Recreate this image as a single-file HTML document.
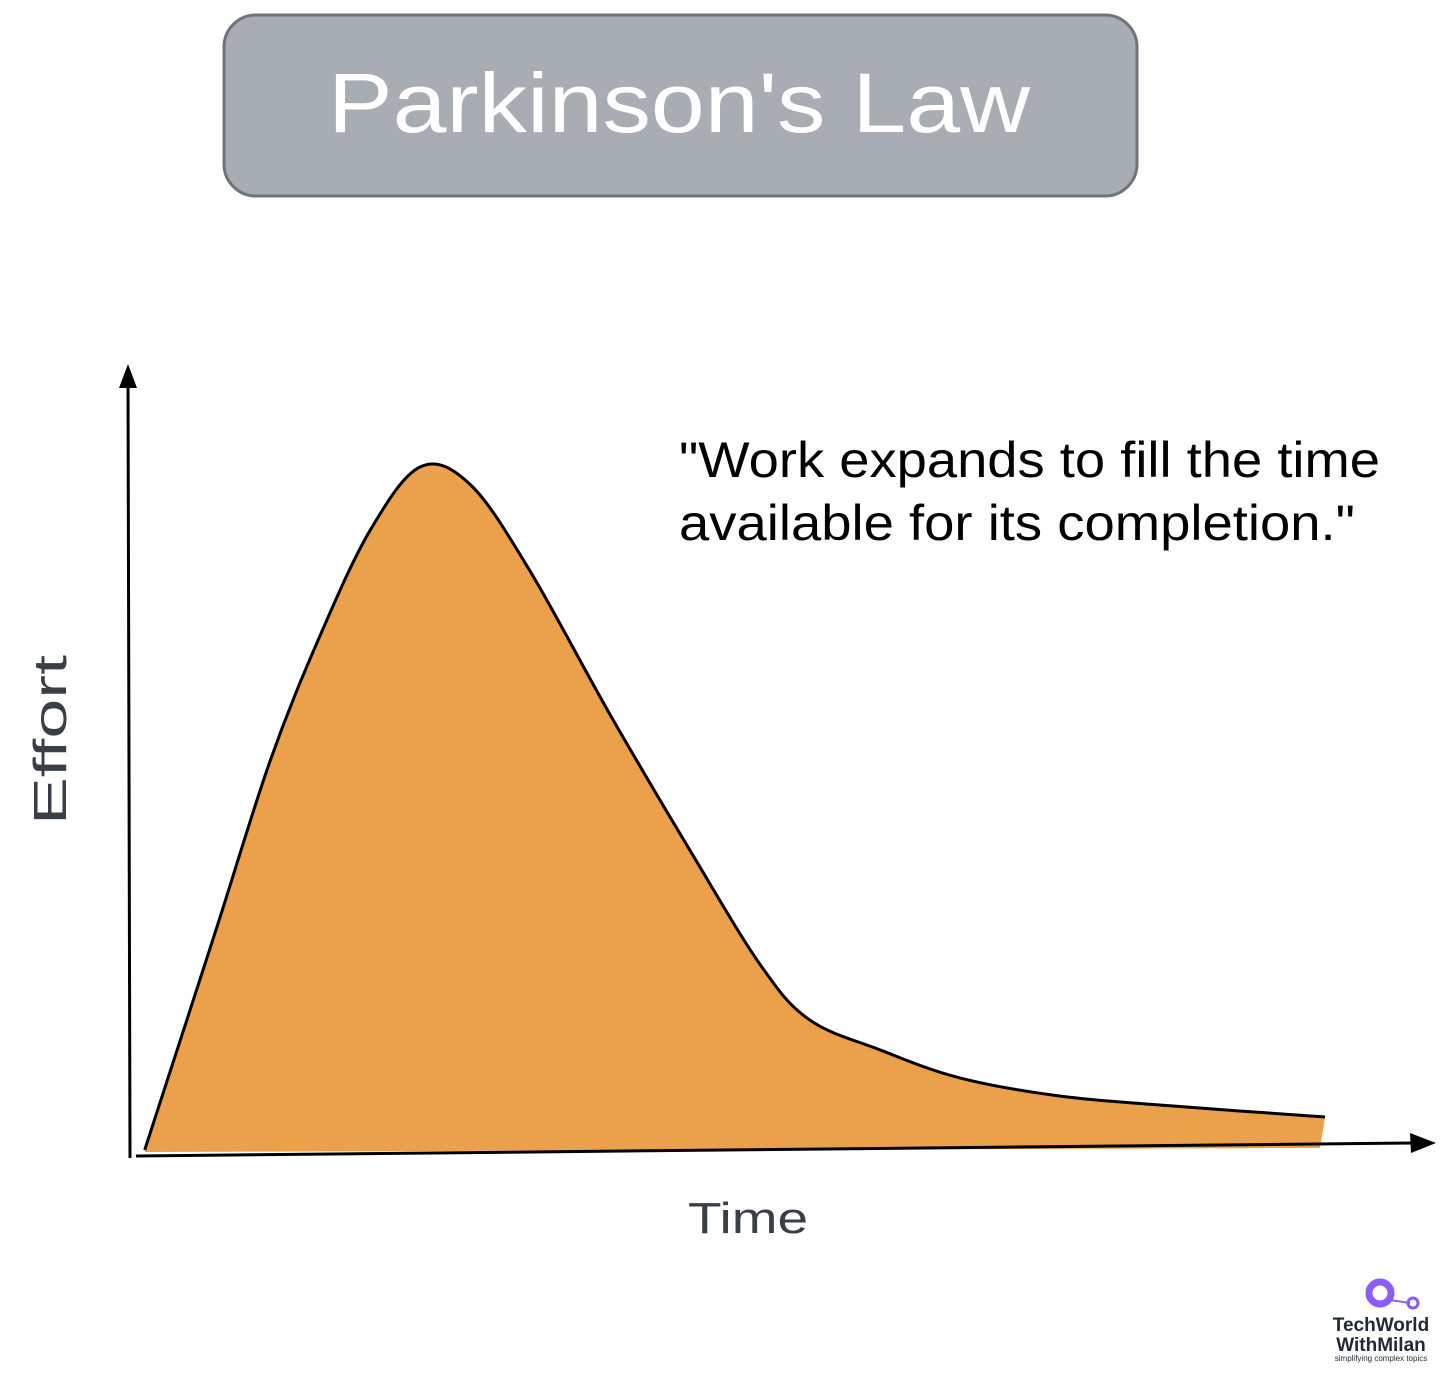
<!DOCTYPE html>
<html><head><meta charset="utf-8">
<style>
body{margin:0;background:#fff;width:1456px;height:1379px;overflow:hidden;font-family:"Liberation Sans",sans-serif;}
svg{position:absolute;left:0;top:0}
</style></head>
<body>
<svg id="chart" width="1456" height="1379">
  <rect x="224" y="15" width="913" height="181" rx="32" fill="#a8adb3" stroke="#6e7479" stroke-width="3"/>
  <text x="328" y="132" textLength="702" lengthAdjust="spacingAndGlyphs" font-family="Liberation Sans, sans-serif" font-size="84" fill="#fff">Parkinson's Law</text>
  <g id="plot"></g>
  <line x1="130" y1="1158" x2="128" y2="382" stroke="#000" stroke-width="3"/>
  <polygon points="128,364 119,388 137,388" fill="#000"/>
  <line x1="136" y1="1156" x2="1415" y2="1143" stroke="#000" stroke-width="3"/>
  <polygon points="1436,1143 1410,1133 1411,1153" fill="#000"/>
  <text x="688" y="1233" textLength="120" lengthAdjust="spacingAndGlyphs" font-size="44" fill="#3a3f47">Time</text>
  <text transform="translate(66,825) rotate(-90)" textLength="170" lengthAdjust="spacingAndGlyphs" font-size="46" fill="#3a3f47">Effort</text>
  <text x="679" y="477" textLength="701" lengthAdjust="spacingAndGlyphs" font-size="50" fill="#000">"Work expands to fill the time</text>
  <text x="679" y="540" textLength="676" lengthAdjust="spacingAndGlyphs" font-size="50" fill="#000">available for its completion."</text>
  <g>
    <circle cx="1380" cy="1293" r="11" fill="none" stroke="#8b5cf6" stroke-width="7"/>
    <line x1="1390" y1="1300" x2="1410" y2="1303" stroke="#8b5cf6" stroke-width="2"/>
    <circle cx="1413" cy="1303" r="5" fill="none" stroke="#8b5cf6" stroke-width="3"/>
    <text x="1381" y="1331" text-anchor="middle" font-size="19" font-weight="bold" fill="#1f2937">TechWorld</text>
    <text x="1381" y="1351" text-anchor="middle" font-size="19" font-weight="bold" fill="#1f2937">WithMilan</text>
    <text x="1381" y="1361" text-anchor="middle" font-size="8" fill="#1f2937">simplifying complex topics</text>
  </g>
</svg>
<script>
const timeValues=[0.6,6.1,10.4,14.3,18.2,22.1,26,30.6,36.9,43.1,48.6,52.4,57.9,64.1,71.9,80.5,92.6];
const effortValues=[0.3,31.4,56,73.9,88.9,97.9,95.3,83.1,62.4,43.1,26.7,18.9,14.6,10.6,8,6.6,5];
const xs=t=>137+t*12.83, ys=e=>1152-e*7;
const pts=timeValues.map((t,i)=>[xs(t),ys(effortValues[i])]);
function path(p){let d=`M${p[0][0]},${p[0][1]}`;for(let i=0;i<p.length-1;i++){const p0=p[Math.max(i-1,0)],p1=p[i],p2=p[i+1],p3=p[Math.min(i+2,p.length-1)];
d+=` C${p1[0]+(p2[0]-p0[0])/6},${p1[1]+(p2[1]-p0[1])/6} ${p2[0]-(p3[0]-p1[0])/6},${p2[1]-(p3[1]-p1[1])/6} ${p2[0]},${p2[1]}`;}return d;}
const g=document.getElementById('plot');const ns='http://www.w3.org/2000/svg';
const line=path(pts);
const area=document.createElementNS(ns,'path');


const last=pts[pts.length-1];
area.setAttribute('d',line+` L${last[0]-5},${ys(0)-4} L${pts[0][0]},${ys(0)} Z`);
area.setAttribute('fill','#eba04b');
g.appendChild(area);
const curve=document.createElementNS(ns,'path');


curve.setAttribute('d',line);curve.setAttribute('fill','none');curve.setAttribute('stroke','#000');curve.setAttribute('stroke-width','3');
g.appendChild(curve);
</script>
</body></html>
